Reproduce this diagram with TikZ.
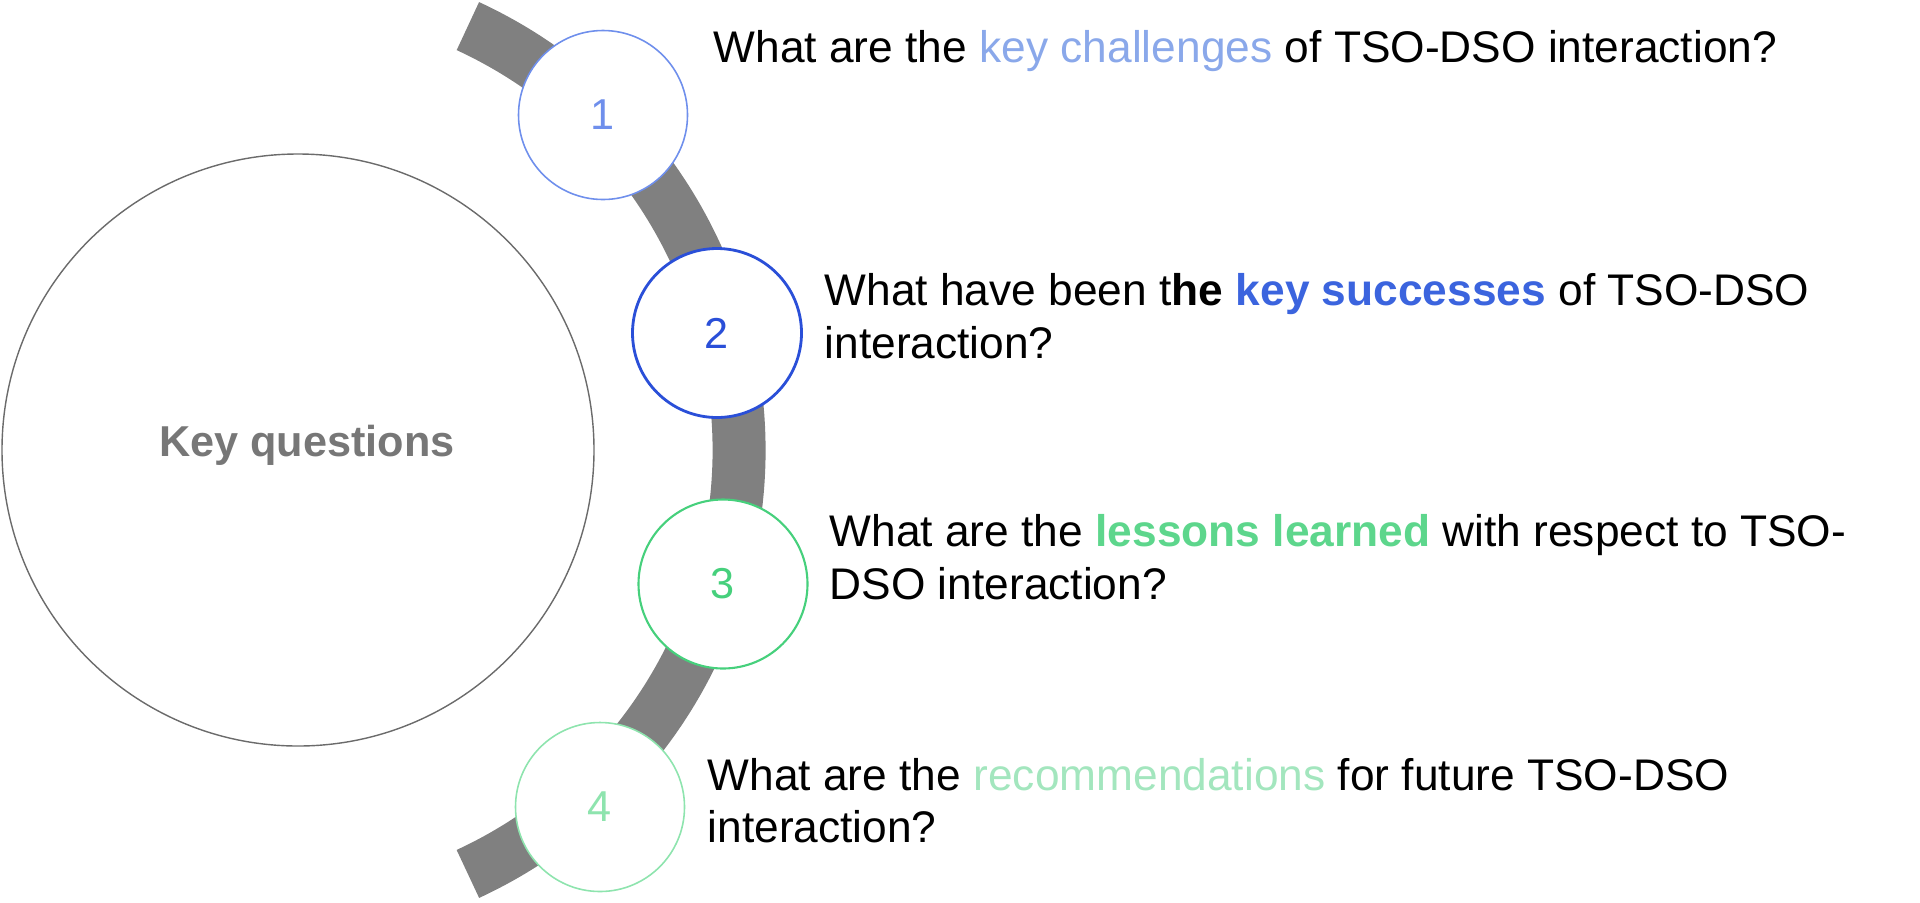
\documentclass[tikz,border=0pt]{standalone}
\usepackage{fontspec}
\setmainfont{Liberation Sans}
\usepackage{tikz}

\definecolor{ring_gray}{HTML}{808080}
\definecolor{big_gray}{HTML}{6B6B6B}
\definecolor{label_gray}{HTML}{777777}
\definecolor{blue_a}{HTML}{6F8FEC}
\definecolor{blue_a_txt}{HTML}{8AA8EA}
\definecolor{blue_b}{HTML}{2A4FD8}
\definecolor{blue_b_txt}{HTML}{3B64DE}
\definecolor{green_a}{HTML}{46D07C}
\definecolor{green_a_txt}{HTML}{5DD68C}
\definecolor{green_b}{HTML}{8EE4AE}
\definecolor{green_b_txt}{HTML}{A3E6BE}

\begin{document}
\begin{tikzpicture}[
		num_style/.style={circle,fill=white,minimum size=1.69cm,inner sep=0pt,font=\fontsize{12.3}{14.8}\selectfont},
		question_style/.style={anchor=base west,align=left,inner sep=0pt,font=\fontsize{12.6}{14.8}\selectfont},
		ring_style/.style={draw=ring_gray,line width=0.53cm}]

		\useasboundingbox (0,0) rectangle (19.2,9.02);

		\node[circle,draw=big_gray,line width=0.4pt,minimum size=5.92cm,inner sep=0pt] (keys) at (2.98,4.52) {};
		\node[anchor=base,inner sep=0pt,text=label_gray,font=\fontsize{12.3}{14.8}\selectfont\bfseries] (keys_label) at (3.07,4.46) {Key questions};

		\draw[ring_style] (2.72,4.52) ++(65.2:4.67) arc[start angle=65.2,end angle=-65.2,radius=4.67];

		\node[num_style,draw=blue_a,line width=0.45pt,text=blue_a] (q1) at (6.03,7.87) {1};
		\node[num_style,draw=blue_b,line width=0.8pt,text=blue_b] (q2) at (7.17,5.69) {2};
		\node[num_style,draw=green_a,line width=0.6pt,text=green_a] (q3) at (7.23,3.18) {3};
		\node[num_style,draw=green_b,line width=0.45pt,text=green_b] (q4) at (6.00,0.95) {4};

		\node[question_style] (t1) at (7.13,8.40) {What are the \textcolor{blue_a_txt}{key challenges} of TSO-DSO interaction?};
		\node[question_style] (t2) at (8.24,5.44) {What have been t\textbf{he \textcolor{blue_b_txt}{key successes}} of TSO-DSO\\interaction?};
		\node[question_style] (t3) at (8.29,3.03) {What are the \textbf{\textcolor{green_a_txt}{lessons learned}} with respect to TSO-\\DSO interaction?};
		\node[question_style] (t4) at (7.07,0.60) {What are the \textcolor{green_b_txt}{recommendations} for future TSO-DSO\\interaction?};
		\end{tikzpicture}
\end{document}
